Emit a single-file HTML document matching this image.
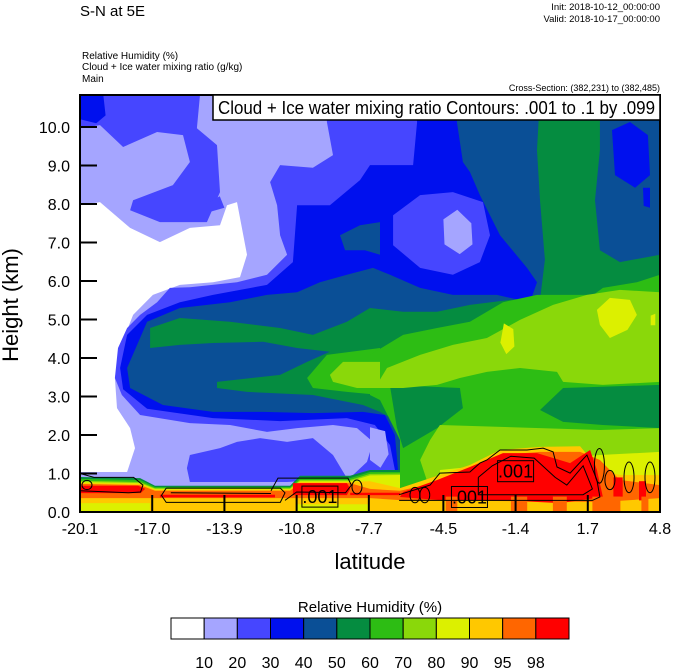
<!DOCTYPE html>
<html><head><meta charset="utf-8"><style>
html,body{margin:0;padding:0;background:#fff;}
svg{display:block;font-family:"Liberation Sans",Arial,sans-serif;}
</style></head><body>
<svg id="chart" width="674" height="668" viewBox="0 0 674 668" xmlns="http://www.w3.org/2000/svg">
<defs><clipPath id="pc"><rect x="80" y="95" width="580" height="417"/></clipPath></defs>
<text x="80" y="16" font-size="15">S-N at 5E</text>
<text x="660" y="10" font-size="9.5" text-anchor="end">Init: 2018-10-12_00:00:00</text>
<text x="660" y="22" font-size="9.5" text-anchor="end">Valid: 2018-10-17_00:00:00</text>
<text x="82" y="59" font-size="10">Relative Humidity   (%)</text>
<text x="82" y="70" font-size="10">Cloud + Ice water mixing ratio   (g/kg)</text>
<text x="82" y="82" font-size="10">Main</text>
<text x="660" y="91" font-size="9" text-anchor="end">Cross-Section: (382,231) to (382,485)</text>
<g id="plot" clip-path="url(#pc)"></g>
<g id="overlay"></g>
<text transform="translate(18,305) rotate(-90)" font-size="22" text-anchor="middle">Height (km)</text>
<text x="370" y="569" font-size="22" text-anchor="middle">latitude</text>
<text x="370" y="612" font-size="15" text-anchor="middle">Relative Humidity  (%)</text>
<g id="cbar"></g>
</svg>
<script>
// ---- data ----
const xTicks = [-20.1,-17.0,-13.9,-10.8,-7.7,-4.5,-1.4,1.7,4.8];
const yTicks = [0,1,2,3,4,5,6,7,8,9,10];
const levels = [10,20,30,40,50,60,70,80,90,95,98];
const levelColors = ["#ffffff","#a5a5ff","#4646ff","#0010ee","#0a4f96","#058c40","#2dbd14","#8ad80a","#dcf000","#ffc800","#ff6600","#ff0000"];
const white1 = [[-20.1,7.97],[-19.24,8.05],[-17.95,7.38],[-16.67,7.01],[-15.38,7.38],[-14.09,7.45],[-13.79,7.97],[-13.36,8.05],[-12.93,6.68],[-13.23,6.1],[-14.39,5.97],[-15.81,5.9],[-16.97,5.64],[-17.82,5.12],[-18.38,4.26],[-18.6,3.48],[-18.51,2.7],[-17.95,2.18],[-17.74,1.66],[-18.08,1.04],[-20.1,1.04]];
const rh20a = [[-20.1,10.83],[-14.95,10.83],[-15.08,9.97],[-14.22,9.53],[-14.09,8.31],[-14.65,7.53],[-16.67,7.53],[-17.95,7.84],[-17.82,8.1],[-16.11,8.49],[-15.38,9.09],[-15.68,9.79],[-16.79,9.87],[-18.25,9.48],[-19.24,10.05],[-20.1,9.97]];
const rh20b = [[-9.5,10.83],[-9.5,10.13],[-9.24,9.27],[-10.1,8.94],[-11.51,9.01],[-11.94,8.57],[-11.64,7.97],[-11.51,7.19],[-11.21,6.68],[-12.07,6.16],[-13.36,5.97],[-15.38,5.84],[-16.24,5.82],[-16.79,5.45],[-17.52,5.12],[-18.08,4.78],[-18.47,4.26],[-18.6,3.48],[-18.3,3.04],[-17.52,2.52],[-15.38,2.31],[-13.66,2.26],[-12.07,2.08],[-10.78,2.18],[-9.24,2.26],[-8.21,2.18],[-7.52,1.82],[-7.78,1.3],[-8.38,0.96],[-8.38,0.57],[4.8,0.57],[4.8,10.83]];
const rh20c = [[-15.38,1.48],[-14.09,1.66],[-13.36,1.82],[-12.37,1.92],[-11.21,1.82],[-10.1,1.92],[-9.24,1.48],[-8.64,0.88],[-11.21,0.78],[-15.38,0.78],[-15.51,1.14]];
const rh20d = [[-14.7,8.0],[-14.1,8.2],[-13.9,7.9],[-14.5,7.8]];
const rh30a = [[-10.78,7.97],[-9.37,7.97],[-8.08,8.62],[-7.65,9.01],[-5.8,9.01],[-5.63,10.13],[-5.8,10.83],[4.8,10.83],[4.8,0.57],[-6.36,0.57],[-6.58,1.09],[-6.79,1.74],[-7.44,2.26],[-8.64,2.44],[-11.51,2.36],[-14.39,2.44],[-17.22,2.68],[-18.25,3.19],[-18.38,3.74],[-18.08,4.6],[-17.22,5.12],[-15.81,5.45],[-14.39,5.64],[-12.07,5.9],[-10.96,6.49]];
const rh30b = [[-20.1,10.83],[-19.1,10.83],[-19.0,10.3],[-19.4,10.1],[-20.1,10.2]];
const rh40a = [[-18.08,3.74],[-17.22,4.94],[-15.81,5.3],[-13.66,5.45],[-12.07,5.64],[-10.78,5.71],[-9.8,5.97],[-8.64,6.16],[-7.52,6.34],[-6.79,6.16],[-5.5,5.82],[-4.09,5.64],[-2.2,5.64],[-0.78,5.45],[-0.48,5.97],[-0.91,6.34],[-2.07,7.19],[-2.93,8.23],[-3.36,8.83],[-3.66,9.09],[-3.92,10.13],[-3.92,10.83],[4.8,10.83],[4.8,0.57],[-6.15,0.57],[-6.45,1.09],[-6.58,2.0],[-7.01,2.52],[-7.95,2.6],[-10.1,2.57],[-12.24,2.6],[-14.39,2.6],[-16.54,2.78],[-17.95,3.22]];
const rh40b = [[-8.94,7.19],[-8.08,7.45],[-7.22,7.53],[-7.22,6.68],[-7.87,6.8],[-8.72,6.8]];
const rh30c = [[2.74,9.92],[3.51,10.13],[4.28,9.79],[4.37,8.75],[3.73,8.42],[2.87,8.75]];
const rh30d = [[-0.22,7.71],[0.38,7.6],[0.3,7.27],[-0.1,7.2]];
const rh30e = [[4.07,8.42],[4.37,8.42],[4.37,7.9],[4.1,7.95]];
const rh50a = [[-17.09,4.78],[-15.81,5.04],[-13.66,4.94],[-11.51,4.78],[-10.1,4.6],[-8.64,4.94],[-7.65,5.3],[-6.23,5.2],[-4.77,5.2],[-3.36,5.38],[-1.64,5.51],[-0.35,5.51],[-0.14,6.55],[-0.35,8.1],[-0.48,9.4],[-0.35,10.83],[2.22,10.83],[2.22,9.4],[2.01,8.1],[2.22,6.8],[3.08,6.49],[4.8,6.68],[4.8,0.57],[-5.5,0.57],[-6.15,1.09],[-6.36,1.87],[-6.58,2.39],[-7.22,2.6],[-7.95,2.78],[-10.1,3.04],[-12.93,3.12],[-14.22,3.22],[-14.22,3.38],[-11.51,3.56],[-10.35,3.9],[-9.37,4.16],[-10.78,4.26],[-12.24,4.42],[-14.39,4.39],[-15.81,4.34],[-17.09,4.26]];
const rh40c = [[4.4,4.1],[4.8,4.3],[4.8,2.7],[4.45,3.0]];
const rh60a = [[-10.35,3.48],[-9.5,4.08],[-7.22,4.26],[-7.22,3.04],[-8.64,3.12],[-10.1,3.22]];
const rh60b = [[-7.65,4.08],[-6.23,4.6],[-4.77,4.78],[-3.36,4.94],[-1.94,5.45],[-0.48,5.64],[1.94,5.64],[2.35,5.82],[3.81,5.97],[4.8,6.16],[4.8,0.57],[-6.36,0.57],[-6.36,1.87],[-6.79,2.39],[-7.22,2.91],[-7.65,3.04]];
const rh50b = [[0.64,3.22],[4.8,3.3],[4.8,2.18],[2.35,2.26],[0.64,2.34],[-0.35,2.65]];
const rh50c = [[-6.8,3.3],[-3.79,3.22],[-3.66,2.7],[-4.77,2.18],[-6.23,1.66],[-6.5,2.2]];
const rh70a = [[-6.92,3.74],[-5.5,4.08],[-4.09,4.34],[-2.63,4.52],[-1.21,4.99],[0.21,5.38],[1.66,5.64],[3.08,5.77],[4.8,5.71],[4.8,3.38],[2.35,3.3],[0.64,3.38],[0.38,3.64],[-1.21,3.74],[-2.63,3.64],[-3.79,3.48],[-4.77,3.3],[-6.23,3.22],[-7.44,3.22]];
const rh70b = [[-9.37,3.56],[-8.81,3.9],[-7.22,3.9],[-7.22,3.22],[-8.21,3.22],[-9.24,3.38]];
const rh70c = [[-4.65,2.26],[-0.35,2.18],[2.22,2.13],[4.8,2.18],[4.8,0.57],[-5.07,0.57],[-5.5,1.35],[-5.07,1.87]];
const rh80a = [[2.09,5.25],[2.65,5.56],[3.51,5.51],[3.81,5.12],[3.4,4.73],[2.65,4.52],[2.22,4.86]];
const rh80b = [[-1.9,4.9],[-1.5,4.75],[-1.45,4.3],[-1.8,4.1],[-2.05,4.4]];
const rh80c = [[4.4,5.1],[4.6,5.15],[4.6,4.85],[4.4,4.85]];
const rh80d = [[-4.65,1.09],[-1.21,1.3],[2.22,1.48],[4.8,1.56],[4.8,0.57],[-4.65,0.57]];
// holes (lower values inside higher)
const rh20hole = [[-6.66,7.71],[-5.5,8.23],[-4.09,8.31],[-2.8,8.05],[-2.5,7.19],[-2.93,6.49],[-4.09,6.16],[-5.5,6.34],[-6.66,6.93]];
const rh10hole = [[-4.5,7.6],[-3.9,7.85],[-3.3,7.5],[-3.25,6.95],[-3.8,6.7],[-4.45,6.95]];
const rh10finger = [[-7.65,2.2],[-7.0,2.1],[-6.85,1.5],[-7.2,1.15],[-7.65,1.35]];
// bottom strip boundaries
const bLat = [-20.1,-17.52,-16.88,-11.08,-10.66,-8.51,-7.65,-6.36];
const b50Km = [0.91,0.88,0.68,0.68,0.94,0.94,1.09,1.09];
const b60Km = [0.86,0.83,0.65,0.65,0.88,0.88,1.04,1.04];
const b70Km = [0.81,0.78,0.62,0.62,0.83,0.83,0.99,1.0];
const b80Km = [0.78,0.75,0.6,0.6,0.8,0.8,0.95,0.96];
const b9Lat = [-20.1,-17.52,-16.88,-11.08,-10.66,-8.51,-7.65,-6.36,-5.07,-3.36,-2.07,-0.35,1.37,2.22,3.08,4.8];
const b90Km = [0.75,0.73,0.58,0.58,0.78,0.78,0.8,0.62,0.88,1.22,1.61,1.69,1.71,1.09,0.96,0.96];
const b95Km = [0.73,0.7,0.55,0.55,0.75,0.75,0.6,0.55,0.73,1.09,1.48,1.56,1.56,1.35,0.83,0.7];
const lowLat = [-20.1,-7.65,-6.36,2.35,4.8];
const lowKm = [0.36,0.36,0.31,0.26,0.36];
const red1 = [[-20.1,0.68],[-17.6,0.68],[-17.3,0.6],[-17.5,0.49],[-20.1,0.49]];
const red2 = [[-16.67,0.45],[-11.73,0.45],[-11.73,0.38],[-16.67,0.38]];
const red3 = [[-10.96,0.75],[-8.64,0.75],[-8.5,0.6],[-8.64,0.44],[-10.96,0.44]];
const red4 = [[-8.5,0.5],[-6.36,0.5],[-6.36,0.44],[-8.5,0.44]];
const red5 = [[-6.23,0.52],[-4.77,0.83],[-3.36,1.17],[-1.94,1.53],[-0.48,1.53],[0.94,1.27],[1.8,1.61],[2.09,1.09],[2.35,0.39],[0.51,0.23],[-2.07,0.31],[-4.65,0.31],[-6.36,0.39]];
const red6 = [[2.8,0.9],[3.2,0.9],[3.2,0.4],[2.8,0.4]];
const red7 = [[3.9,0.8],[4.2,0.8],[4.2,0.3],[3.9,0.3]];
const orangeCols = [[-4.4,-3.9],[-1.6,-0.9],[0.2,0.8],[1.9,3.1],[4.0,4.3]];
const yellowLow = [[[-20.1,0.23],[-17.1,0.23],[-17.1,0],[-20.1,0]],[[-10.8,0.2],[-7.65,0.2],[-7.65,0],[-10.8,0]]];
// cloud contours (.001)
const cont1 = [[-20.1,1.0],[-19.5,0.9],[-17.8,0.9],[-17.4,0.7],[-17.5,0.52],[-18.0,0.5],[-20.1,0.55]];
const cont2 = [[-16.4,0.62],[-11.5,0.62],[-11.3,0.5],[-11.5,0.25],[-16.4,0.25],[-16.6,0.43],[-16.4,0.62]];
const cont3 = [[-11.9,0.55],[-11.6,0.88],[-8.6,0.88],[-8.45,0.7],[-8.7,0.5],[-10.8,0.52],[-11.3,0.3]];
const cont4 = [[-6.4,0.45],[-5.07,0.7],[-4.65,1.01],[-3.36,1.04],[-2.93,1.27],[-2.63,1.35],[-2.07,1.61],[-0.91,1.61],[-0.22,1.66],[0.21,1.56],[0.38,1.17],[0.94,1.01],[1.66,1.48],[2.09,0.83],[2.22,0.39],[1.9,0.3],[-6.4,0.3]];
const cont5 = [[-3.0,0.9],[-2.4,1.2],[-1.6,1.45],[-0.6,1.4],[0.3,0.9],[0.8,0.7],[1.5,1.2],[1.9,0.6],[1.5,0.45],[-3.0,0.45],[-3.0,0.9]];
const contEllLat = [-8.21,-5.72,-5.3,2.65,3.47,4.37,2.2,-19.8];
const contEllKm = [0.65,0.44,0.44,0.83,0.9,0.9,1.2,0.7];
const contEllRy = [0.18,0.2,0.2,0.25,0.4,0.4,0.45,0.12];
const labelLat = [-9.8,-3.38,-1.4];
const labelKm = [0.4,0.39,1.06];
const labelText = [".001",".001",".001"];

// ---- axis functions ----
const X = lat => 80 + (lat + 20.1) / 24.9 * 580;
const Y = km => 512 - km * 38.5;
const NS = "http://www.w3.org/2000/svg";
const plot = document.getElementById('plot');
const overlay = document.getElementById('overlay');
function mk(tag, parent, attrs){ const e=document.createElementNS(NS,tag); for(const k in attrs) e.setAttribute(k,attrs[k]); parent.appendChild(e); return e; }
function poly(pts, fill, name){
  const e = mk('polygon', plot, {points: pts.map(p=>X(p[0]).toFixed(1)+','+Y(p[1]).toFixed(1)).join(' '), fill: fill});
  
  
  return e;
}
function band(lats, kms, fill, name){
  const pts = lats.map((l,i)=>[l,kms[i]]);
  pts.push([lats[lats.length-1],0]); pts.push([lats[0],0]);
  return poly(pts, fill, name);
}
const C = levelColors;
const bg = mk('rect', plot, {x:80,y:95,width:580,height:417,fill:C[1]});


poly(white1, C[0], 'rh-below-10-region');
poly(rh20a, C[2], 'rh-20-30-region');
poly(rh20b, C[2], 'rh-20-30-region');
poly(rh20c, C[2], 'rh-20-30-region');
poly(rh20d, C[2], 'rh-20-30-region');
poly(rh30a, C[3], 'rh-30-40-region');
poly(rh30b, C[3], 'rh-30-40-region');
poly(rh40a, C[4], 'rh-40-50-region');
poly(rh40b, C[4], 'rh-40-50-region');
poly(rh30c, C[3], 'rh-30-40-region');
poly(rh30d, C[3], 'rh-30-40-region');
poly(rh30e, C[3], 'rh-30-40-region');
poly(rh50a, C[5], 'rh-50-60-region');
poly(rh40c, C[4], 'rh-40-50-region');
poly(rh60a, C[6], 'rh-60-70-region');
poly(rh60b, C[6], 'rh-60-70-region');
poly(rh50b, C[5], 'rh-50-60-region');
poly(rh50c, C[5], 'rh-50-60-region');
poly(rh70a, C[7], 'rh-70-80-region');
poly(rh70b, C[7], 'rh-70-80-region');
poly(rh70c, C[7], 'rh-70-80-region');
poly(rh80a, C[8], 'rh-80-90-region');
poly(rh80b, C[8], 'rh-80-90-region');
poly(rh80c, C[8], 'rh-80-90-region');
poly(rh80d, C[8], 'rh-80-90-region');
poly(rh20hole, C[2], 'rh-20-30-region');
poly(rh10hole, C[1], 'rh-10-20-region');
poly(rh10finger, C[1], 'rh-10-20-region');
band(bLat, b50Km, C[5], 'surface-rh-50-band');
band(bLat, b60Km, C[6], 'surface-rh-60-band');
band(bLat, b70Km, C[7], 'surface-rh-70-band');
band(bLat, b80Km, C[8], 'surface-rh-80-band');
band(b9Lat, b90Km, C[9], 'surface-rh-90-band');
band(b9Lat, b95Km, C[10], 'surface-rh-95-band');
band(lowLat, lowKm, C[9], 'surface-rh-90-low-band');
[red1,red2,red3,red4,red5,red6,red7].forEach(r=>poly(r, C[11], 'rh-above-98-region'));
orangeCols.forEach(c=>poly([[c[0],0.4],[c[1],0.4],[c[1],0],[c[0],0]], C[10], 'rh-95-98-column'));
yellowLow.forEach(r=>poly(r, C[8], 'rh-80-90-region'));
function line(pts, name){
  const e = mk('polyline', plot, {points: pts.map(p=>X(p[0]).toFixed(1)+','+Y(p[1]).toFixed(1)).join(' '), fill:'none', stroke:'#000','stroke-width':1});
  
  
}
line(cont1,'cloud-contour-line'); line(cont2,'cloud-contour-line'); line(cont3,'cloud-contour-line');
line(cont4,'cloud-contour-line'); line(cont5,'cloud-contour-line');
line([[-16.2,0.5],[-11.9,0.48]],'cloud-contour-line');
contEllLat.forEach((l,i)=>{
  const e = mk('ellipse', plot, {cx:X(l), cy:Y(contEllKm[i]), rx:5, ry:contEllRy[i]*38.5, fill:'none', stroke:'#000','stroke-width':1});
  
  
});
labelLat.forEach((l,i)=>{
  const cx=X(l), cy=Y(labelKm[i]);
  const r = mk('rect', plot, {x:cx-18,y:cy-10.5,width:36,height:21,fill:'none',stroke:'#000','stroke-width':1});
  
  
  const t = mk('text', plot, {x:cx,y:cy+6.5,'font-size':18,'text-anchor':'middle'});
  t.textContent = labelText[i];
  
  
});
const fr = mk('rect', overlay, {x:80,y:95,width:580,height:417,fill:'none',stroke:'#000','stroke-width':2});


const lb = mk('rect', overlay, {x:213,y:95,width:447,height:25,fill:'#fff',stroke:'#000','stroke-width':1.5});


const lt = mk('text', overlay, {x:218,y:114,'font-size':18,textLength:437,lengthAdjust:'spacingAndGlyphs'});
lt.textContent = 'Cloud + Ice water mixing ratio Contours: .001 to .1 by .099';


yTicks.forEach(v=>{
  const y=Y(v);
  if(v>0){ const t=mk('line', overlay, {x1:80,x2:97,y1:y,y2:y,stroke:'#000','stroke-width':2});
    }
  const l=mk('text', overlay, {x:70,y:y+6,'font-size':16,'text-anchor':'end'});
  l.textContent=v.toFixed(1);
   
});
xTicks.forEach((v,i)=>{
  const x=X(v);
  if(i>0 && i<xTicks.length-1){ const t=mk('line', overlay, {x1:x,x2:x,y1:512,y2:495,stroke:'#000','stroke-width':2});
    }
  const l=mk('text', overlay, {x:x,y:534,'font-size':16,'text-anchor':'middle'});
  l.textContent=v.toFixed(1);
   
});
const cb=document.getElementById('cbar');
const w=(569-171)/levelColors.length;
levelColors.forEach((c,i)=>{
  const r=mk('rect', cb, {x:171+i*w,y:618,width:w,height:21,fill:c,stroke:'#000','stroke-width':1});
   
});
levels.forEach((v,i)=>{
  const t=mk('text', cb, {x:171+(i+1)*w,y:668,'font-size':16,'text-anchor':'middle'});
  t.textContent=v;
   
});
</script>
</body></html>
